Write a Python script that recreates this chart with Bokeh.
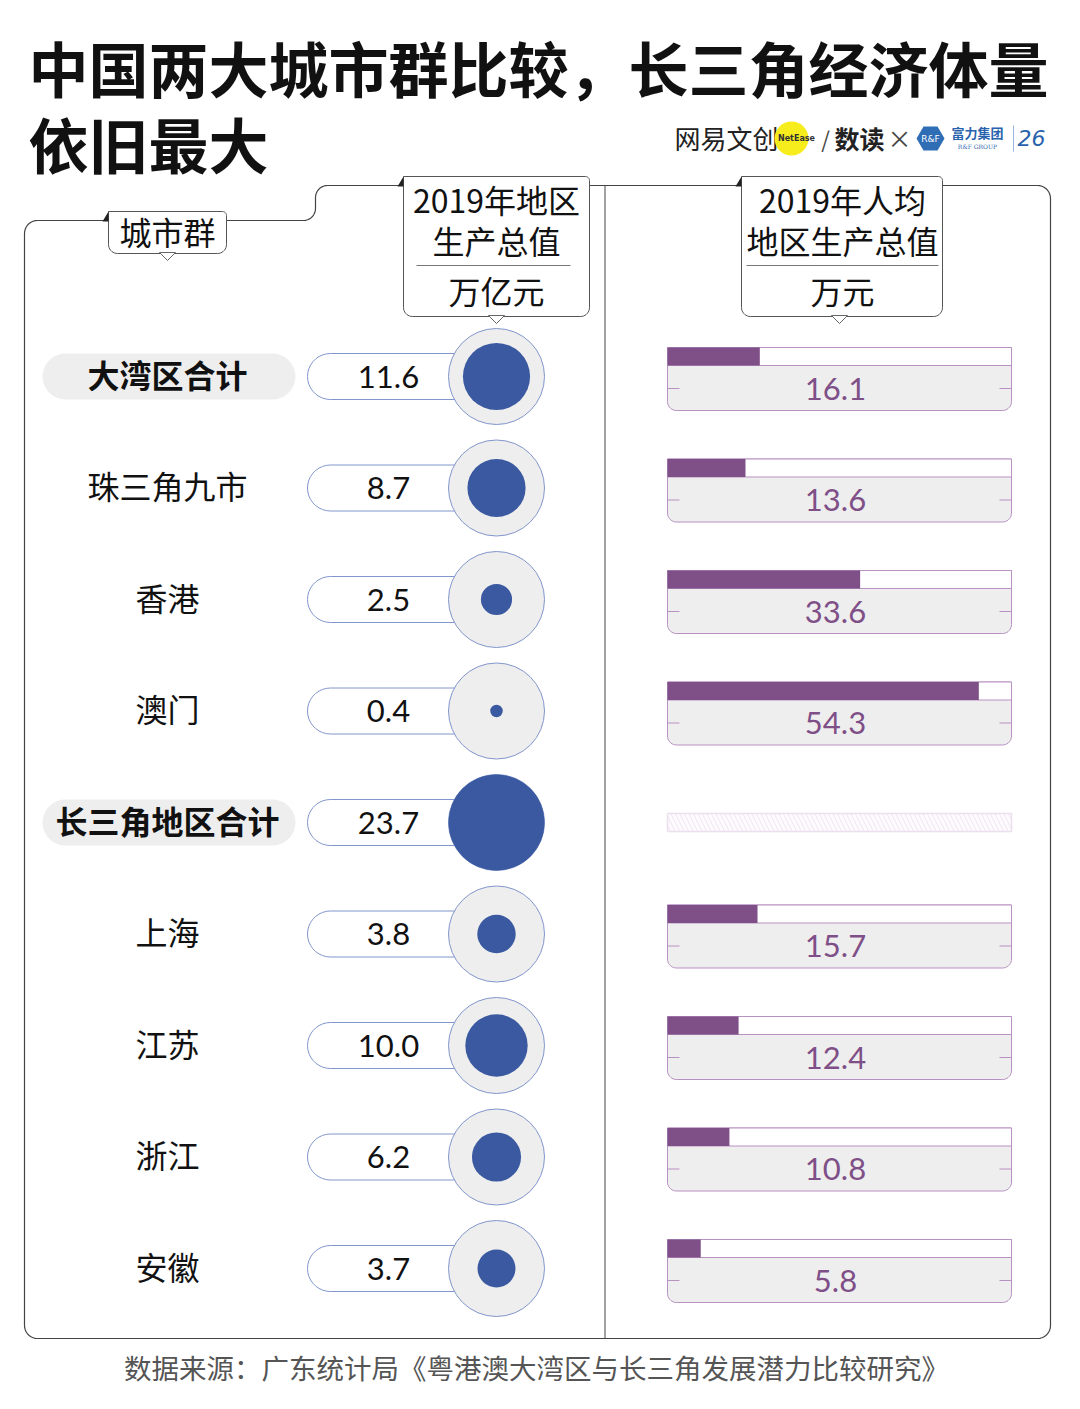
import numpy as np
from bokeh.plotting import figure
from bokeh.models import ColumnDataSource, Range1d
from bokeh.core.properties import value
from bokeh.embed import file_html
from bokeh.resources import INLINE

# ---------------- data ----------------
cities = ["大湾区合计", "珠三角九市", "香港", "澳门", "长三角地区合计", "上海", "江苏", "浙江", "安徽"]
gdp = [11.6, 8.7, 2.5, 0.4, 23.7, 3.8, 10.0, 6.2, 3.7]              # 2019年地区生产总值 万亿元
gdp_text = ["11.6", "8.7", "2.5", "0.4", "23.7", "3.8", "10.0", "6.2", "3.7"]
gdp_pc = [16.1, 13.6, 33.6, 54.3, None, 15.7, 12.4, 10.8, 5.8]    # 2019年人均地区生产总值 万元
is_total = [True, False, False, False, True, False, False, False, False]

title1 = "中国两大城市群比较，长三角经济体量"
title2 = "依旧最大"
col_head1 = "城市群"
col_head2 = ["2019年地区", "生产总值", "万亿元"]
col_head3 = ["2019年人均", "地区生产总值", "万元"]
source_note = "数据来源：广东统计局《粤港澳大湾区与长三角发展潜力比较研究》"

# ---------------- styles ----------------
CJK = value("Noto Sans CJK SC")
NUM = value("Lato")
BLUE = "#3a59a0"
RING = "#8196cc"
PURPLE = "#7f4f87"
PURPLE_LINE = "#b892c2"
GREY = "#eeeeee"
FRAME = "#444444"

W, H = 1080, 1409
p = figure(width=W, height=H, x_range=Range1d(0, W), y_range=Range1d(H, 0),
           min_border=0, min_border_left=0, min_border_right=0, min_border_top=0,
           min_border_bottom=0, toolbar_location=None, output_backend="svg")
p.axis.visible = False
p.grid.visible = False
p.outline_line_color = None
p.background_fill_color = "white"
p.border_fill_color = "white"

# bar scale for per-capita values: 0 -> x=667, 60 -> x=1011
bar_x0, bar_x1, bar_max = 667, 1011, 60.0
u = (bar_x1 - bar_x0) / bar_max
p.extra_x_ranges["pc"] = Range1d(-bar_x0 / u, (W - bar_x0) / u)


def arc(cx, cy, r, a0, a1, n=10):
    t = np.radians(np.linspace(a0, a1, n))
    return list(cx + r * np.cos(t)), list(cy + r * np.sin(t))


def rrect(x0, y0, x1, y1, tl=0, tr=0, br=0, bl=0):
    xs, ys = [], []
    for (cx, cy, r, a0, a1) in [(x0 + tl, y0 + tl, tl, 180, 270),
                                (x1 - tr, y0 + tr, tr, 270, 360),
                                (x1 - br, y1 - br, br, 0, 90),
                                (x0 + bl, y1 - bl, bl, 90, 180)]:
        ax, ay = arc(cx, cy, r, a0, a1)
        xs += ax
        ys += ay
    return xs, ys


# ---------------- title ----------------
p.text(x=[28], y=[66], text=[title1], text_font=CJK, text_font_style="bold",
       text_font_size="60px", text_baseline="middle", text_color="#111111")
p.text(x=[28], y=[142], text=[title2], text_font=CJK, text_font_style="bold",
       text_font_size="60px", text_baseline="middle", text_color="#111111")

# ---------------- logo ----------------
p.text(x=[674], y=[137], text=["网易文创"], text_font=CJK, text_font_size="26px",
       text_baseline="middle", text_color="#222222")
p.circle(x=[791], y=[138], radius=17, fill_color="#f7ec1c", line_color=None)
p.text(x=[796], y=[138], text=["NetEase"], text_font=value("DejaVu Sans"), text_font_style="bold",
       text_font_size="8px", text_align="center", text_baseline="middle", text_color="#333333")
p.text(x=[825], y=[137], text=["/"], text_font=CJK, text_font_size="22px",
       text_align="center", text_baseline="middle", text_color="#444444")
p.text(x=[834], y=[137], text=["数读"], text_font=CJK, text_font_style="bold", text_font_size="25px",
       text_baseline="middle", text_color="#222222")
p.text(x=[899], y=[137], text=["×"], text_font=CJK, text_font_size="24px",
       text_align="center", text_baseline="middle", text_color="#444444")
hx, hy = arc(930, 138, 14, 0, 360, 7)
p.patch(hx, hy, fill_color="#2f6db5", line_color=None)
p.text(x=[930], y=[138], text=["R&F"], text_font=value("DejaVu Sans"), text_font_size="9px",
       text_align="center", text_baseline="middle", text_color="white")
p.text(x=[977], y=[132], text=["富力集团"], text_font=CJK, text_font_style="bold", text_font_size="13px",
       text_align="center", text_baseline="middle", text_color="#2a63ad")
p.text(x=[977], y=[146], text=["R&F GROUP"], text_font=value("DejaVu Serif"), text_font_size="6px",
       text_align="center", text_baseline="middle", text_color="#2a63ad")
p.line([1013, 1013], [125, 151], line_color="#9bb6dd", line_width=1)
p.text(x=[1031], y=[137], text=["26"], text_font=value("DejaVu Sans"), text_font_style="italic",
       text_font_size="22px", text_align="center", text_baseline="middle", text_color="#2a63ad")

# ---------------- frame ----------------
fx, fy = [24], [1325]
for seg in [(37, 233, 13, 180, 270), (303, 208, 12, 90, 0), (327, 197, 12, 180, 270),
            (1037, 198, 13, 270, 360), (1037, 1325, 13, 0, 90), (37, 1325, 13, 90, 180)]:
    ax, ay = arc(*seg)
    fx += ax
    fy += ay
p.line(fx, fy, line_color=FRAME, line_width=1.2)
p.line([604.5, 604.5], [185, 1338], line_color=FRAME, line_width=1)


def header_box(x0, y0, x1, y1, cx):
    bx, by = rrect(x0, y0, x1, y1, tl=0, tr=4, br=9, bl=9)
    p.patch(bx, by, fill_color="white", line_color="#555555", line_width=1)
    p.patch([x0 - 6, x0, x0], [y0 + 10, y0 + 10, y0], fill_color="#222222", line_color=None)
    p.patch([cx - 8, cx + 8, cx], [y1 - 1, y1 - 1, y1 + 7], fill_color="white",
            line_color="#666666", line_width=1)


header_box(108, 211, 226, 253, 167)
p.text(x=[167], y=[230], text=[col_head1], text_font=CJK, text_font_size="32px",
       text_align="center", text_baseline="middle", text_color="#111111")

header_box(403, 176, 589, 316, 496)
p.text(x=[496, 496, 496], y=[198, 239, 289], text=col_head2, text_font=CJK, text_font_size="32px",
       text_align="center", text_baseline="middle", text_color="#111111")
p.line([416, 570], [265, 265], line_color="#777777", line_width=1)

header_box(741, 176, 942, 316, 839)
p.text(x=[842, 842, 842], y=[198, 239, 289], text=col_head3, text_font=CJK, text_font_size="32px",
       text_align="center", text_baseline="middle", text_color="#111111")
p.line([746, 938], [265, 265], line_color="#777777", line_width=1)

# ---------------- rows ----------------
n = len(cities)
row_y = [376 + 111.5 * i for i in range(n)]

for i in range(n):
    y = row_y[i]
    if is_total[i]:
        gx, gy = rrect(42, y - 23, 295, y + 23, 23, 23, 23, 23)
        p.patch(gx, gy, fill_color=GREY, line_color=None)
    # value pill
    vx, vy = rrect(307, y - 23, 496, y + 23, 23, 0, 0, 23)
    p.patch(vx, vy, fill_color="white", line_color=RING, line_width=1)
    # per-capita frame
    if gdp_pc[i] is not None:
        ox, oy = rrect(bar_x0, y - 29, bar_x1, y + 34, 0, 0, 9, 9)
        p.patch(ox, oy, fill_color=GREY, line_color=PURPLE_LINE, line_width=1)
        p.quad(left=bar_x0, right=bar_x1, top=y - 29, bottom=y - 11, fill_color="white",
               line_color=PURPLE_LINE, line_width=1)
        p.line([bar_x0, bar_x0 + 12], [y + 12, y + 12], line_color=PURPLE_LINE, line_width=1)
        p.line([bar_x1 - 12, bar_x1], [y + 12, y + 12], line_color=PURPLE_LINE, line_width=1)
    else:
        p.quad(left=bar_x0, right=bar_x1, top=y - 9, bottom=y + 9, fill_color="#fdfbfd",
               line_color="#ece0ef", line_width=1.5, hatch_pattern="\\", hatch_color="#ecdff0",
               hatch_scale=9, hatch_weight=1, hatch_alpha=0.8)

src = ColumnDataSource(dict(
    y=row_y,
    ty=[yy - 3 for yy in row_y],
    city=cities,
    gdp=gdp,
    gdp_text=gdp_text,
    r=list(48 * np.sqrt(np.array(gdp) / max(gdp))),
    font_style=["bold" if t else "normal" for t in is_total],
))

p.text(x=167, y="ty", text="city", source=src, text_font=CJK, text_font_style="font_style",
       text_font_size="32px", text_align="center", text_baseline="middle", text_color="#111111")
p.text(x=388, y="y", text="gdp_text", source=src, text_font=NUM, text_font_size="31px",
       text_align="center", text_baseline="middle", text_color="#111111")
p.circle(x=496, y="y", radius=48, source=src, fill_color=GREY, line_color=RING, line_width=1)
p.circle(x=496, y="y", radius="r", source=src, fill_color=BLUE, line_color=None)

pc_idx = [i for i in range(n) if gdp_pc[i] is not None]
src_pc = ColumnDataSource(dict(
    bar_y=[row_y[i] - 20 for i in pc_idx],
    txt_y=[row_y[i] + 12 for i in pc_idx],
    pc=[gdp_pc[i] for i in pc_idx],
    pc_text=["%.1f" % gdp_pc[i] for i in pc_idx],
))
p.hbar(y="bar_y", left=0, right="pc", height=18, source=src_pc, x_range_name="pc",
       fill_color=PURPLE, line_color=None)
p.text(x=835, y="txt_y", text="pc_text", source=src_pc, text_font=NUM,
       text_font_size="31px", text_align="center", text_baseline="middle", text_color=PURPLE)

# ---------------- footer ----------------
p.text(x=[536], y=[1366], text=[source_note], text_font=CJK, text_font_size="27.5px",
       text_align="center", text_baseline="middle", text_color="#555555")

open("out.html", "w").write(file_html(p, INLINE))
